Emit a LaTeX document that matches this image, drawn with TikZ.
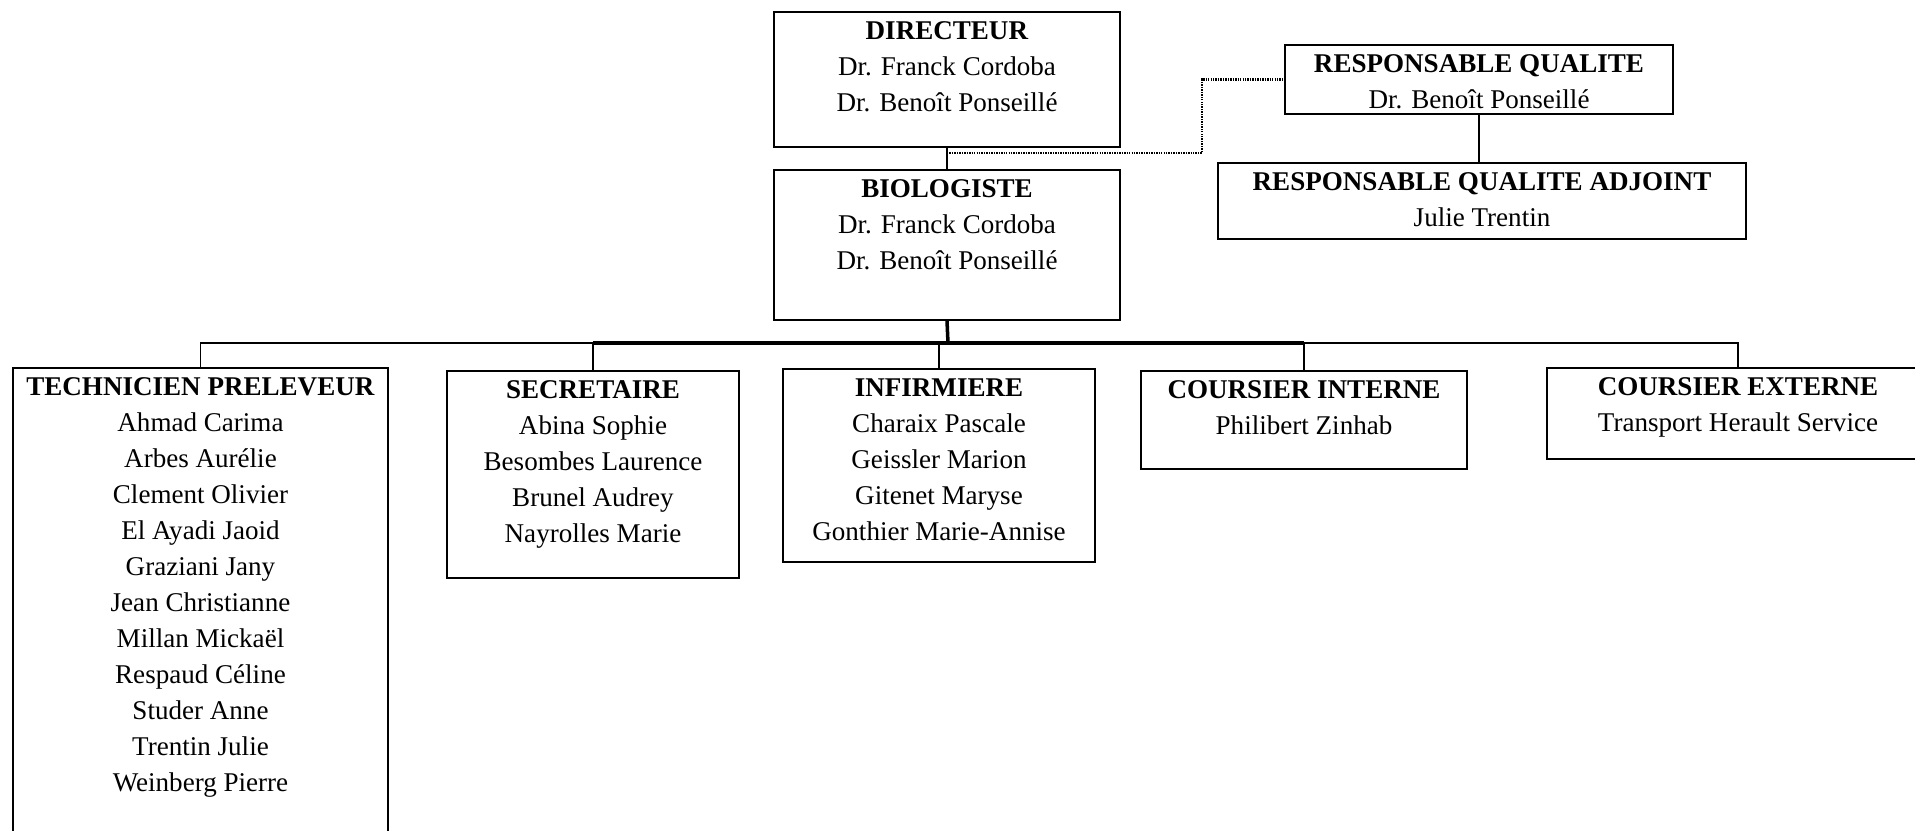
\documentclass[tikz,border=0pt]{standalone}
\usepackage{fontspec}
\setmainfont{Liberation Serif}
\begin{document}
\begin{tikzpicture}[x=0.1mm, y=-0.1mm,
  posbox/.style={shape=rectangle, draw=black, line width=0.6pt, inner sep=0pt},
  postext/.style={anchor=north, inner sep=0pt, align=center, font=\fontsize{7.7}{10.25}\selectfont},
  link/.style={draw=black, line width=0.5pt},
  qlink/.style={draw=black, line width=0.8pt, dash pattern=on 0.4pt off 0.3pt}]
\useasboundingbox (0,0) rectangle (1915,830);
\clip (0,0) rectangle (1915,830);
% top of the chart
\node[posbox, minimum width=34.6mm, minimum height=13.5mm] (dir) at (947,79.5) {};
\node[postext] (dirtxt) at ([yshift=-1mm]dir.north) {\textbf{DIRECTEUR}\\Dr. Franck Cordoba\\Dr. Benoît Ponseillé};
\node[posbox, minimum width=34.6mm, minimum height=15mm] (bio) at (947,245) {};
\node[postext] (biotxt) at ([yshift=-1mm]bio.north) {\textbf{BIOLOGISTE}\\Dr. Franck Cordoba\\Dr. Benoît Ponseillé};
\node[posbox, minimum width=38.8mm, minimum height=6.9mm] (rq) at (1479,79.5) {};
\node[postext] (rqtxt) at ([yshift=-1mm]rq.north) {\textbf{RESPONSABLE QUALITE}\\Dr. Benoît Ponseillé};
\node[posbox, minimum width=52.8mm, minimum height=7.6mm] (rqa) at (1482,201) {};
\node[postext] (rqatxt) at ([yshift=-1mm]rqa.north) {\textbf{RESPONSABLE QUALITE ADJOINT}\\Julie Trentin};
% staff
\node[posbox, minimum width=37.5mm, minimum height=48.2mm] (tech) at (200.5,609) {};
\node[postext] (techtxt) at ([yshift=-1mm]tech.north) {\textbf{TECHNICIEN PRELEVEUR}\\Ahmad Carima\\Arbes Aurélie\\Clement Olivier\\El Ayadi Jaoid\\Graziani Jany\\Jean Christianne\\Millan Mickaël\\Respaud Céline\\Studer Anne\\Trentin Julie\\Weinberg Pierre};
\node[posbox, minimum width=29.2mm, minimum height=20.7mm] (sec) at (593,474.5) {};
\node[postext] (sectxt) at ([yshift=-1mm]sec.north) {\textbf{SECRETAIRE}\\Abina Sophie\\Besombes Laurence\\Brunel Audrey\\Nayrolles Marie};
\node[posbox, minimum width=31.2mm, minimum height=19.3mm] (inf) at (939,465.5) {};
\node[postext] (inftxt) at ([yshift=-1mm]inf.north) {\textbf{INFIRMIERE}\\Charaix Pascale\\Geissler Marion\\Gitenet Maryse\\Gonthier Marie-Annise};
\node[posbox, minimum width=32.6mm, minimum height=9.8mm] (ci) at (1304,420) {};
\node[postext] (citxt) at ([yshift=-1mm]ci.north) {\textbf{COURSIER INTERNE}\\Philibert Zinhab};
\node[posbox, minimum width=38.2mm, minimum height=9.1mm] (ce) at (1738,413.5) {};
\node[postext] (cetxt) at ([yshift=-1mm]ce.north) {\textbf{COURSIER EXTERNE}\\Transport Herault Service};
% links
\coordinate (bus) at (948,343);
\coordinate (qbend) at (1202,153);
\coordinate (dq) at (947,153);
\draw[link] (dir.south) -- (bio.north);
\draw[qlink] (dq) -- (qbend) |- (rq.west);
\draw[link] (rq.south) -- (rq.south |- rqa.north);
\draw[link, line width=1pt] (bio.south) -- (bus);
\draw[link] (bus) -| (tech.north);
\draw[link] (bus) -| (sec.north);
\draw[link] (bus) -| (inf.north);
\draw[link] (bus) -| (ci.north);
\draw[link] (bus) -| (ce.north);
\draw[link, line width=0.9pt] (sec.north |- bus) -- (ci.north |- bus);
\end{tikzpicture}
\end{document}
